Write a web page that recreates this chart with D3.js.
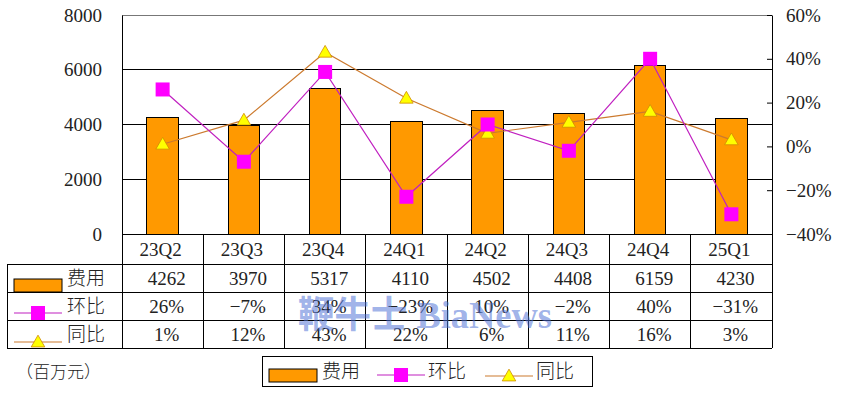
<!DOCTYPE html>
<html>
<head>
<meta charset="utf-8">
<script src="https://cdn.jsdelivr.net/npm/d3@7"></script>
<style>
  body { margin: 0; background: #fff; }
  svg { display: block; }
  text { font-family: 'Liberation Serif', 'Noto Sans CJK SC', serif; fill: #222; }
</style>
</head>
<body>
<svg id="chart" width="852" height="398"></svg>
<script>
const quarters = ['23Q2', '23Q3', '23Q4', '24Q1', '24Q2', '24Q3', '24Q4', '25Q1']
const expense = [4262, 3970, 5317, 4110, 4502, 4408, 6159, 4230]
const qoq = [26, -7, 34, -23, 10, -2, 40, -31]
const yoy = [1, 12, 43, 22, 6, 11, 16, 3]
const leftTicks = [0, 2000, 4000, 6000, 8000]
const rightTicks = [-40, -20, 0, 20, 40, 60]

const plot = { left: 122, right: 772, top: 15, bottom: 234 }
const rowH = [234, 264, 292, 320, 348]
const tableLeft = 7

const ORANGE = '#FF9900'
const MAGENTA = '#FF00FF'
const QOQ_LINE = '#C020C0'
const YOY_LINE = '#CC7A2E'
const YELLOW = '#FFFF00'

const pct = d => (d < 0 ? '\u2212' : '') + Math.abs(d) + '%'

const svg = d3.select('#chart')

const x = d3.scaleBand().domain(quarters).range([plot.left, plot.right]).padding(0)
const y = d3.scaleLinear().domain([0, 8000]).range([plot.bottom, plot.top])
const y2 = d3.scaleLinear().domain([-40, 60]).range([plot.bottom, plot.top])
const barW = x.bandwidth() * 0.39
const cx = q => x(q) + x.bandwidth() / 2

// grid lines
svg.append('g')
  .selectAll('line')
  .data(leftTicks)
  .join('line')
  .attr('x1', plot.left).attr('x2', plot.right)
  .attr('y1', d => y(d)).attr('y2', d => y(d))
  .attr('stroke', d => d === 8000 ? '#777' : '#000')
  .attr('stroke-width', 1)
  .attr('shape-rendering', 'crispEdges')

// bars
svg.append('g')
  .selectAll('rect')
  .data(expense)
  .join('rect')
  .attr('x', (d, i) => cx(quarters[i]) - barW / 2)
  .attr('y', d => y(d))
  .attr('width', barW)
  .attr('height', d => y(0) - y(d))
  .attr('fill', ORANGE)
  .attr('stroke', '#000')
  .attr('stroke-width', 1)
  .attr('shape-rendering', 'crispEdges')

// axes
const gl = svg.append('g')
  .attr('transform', `translate(${plot.left},0)`)
  .call(d3.axisLeft(y).tickValues(leftTicks).tickSize(0).tickPadding(20).tickFormat(d3.format('d')))
  .attr('font-family', null).attr('font-size', null)
gl.select('.domain').attr('stroke', '#000')
gl.selectAll('text').style('font-size', '19px')

const gr = svg.append('g')
  .attr('transform', `translate(${plot.right},0)`)
  .call(d3.axisRight(y2).tickValues(rightTicks).tickSizeInner(-5).tickSizeOuter(0).tickPadding(14).tickFormat(pct))
  .attr('font-family', null).attr('font-size', null)
gr.select('.domain').attr('stroke', '#000')
gr.selectAll('line').attr('stroke', '#000')
gr.selectAll('text').style('font-size', '19px')

// lines
const lineQ = d3.line().x((d, i) => cx(quarters[i])).y(d => y2(d))
svg.append('path').datum(yoy).attr('d', lineQ)
  .attr('fill', 'none').attr('stroke', YOY_LINE).attr('stroke-width', 1.2)
svg.append('path').datum(qoq).attr('d', lineQ)
  .attr('fill', 'none').attr('stroke', QOQ_LINE).attr('stroke-width', 1.2)

const tri = d3.symbol().type(d3.symbolTriangle).size(80)
svg.append('g')
  .selectAll('path')
  .data(yoy)
  .join('path')
  .attr('d', tri)
  .attr('transform', (d, i) => `translate(${cx(quarters[i])},${y2(d) + 1})`)
  .attr('fill', YELLOW)
  .attr('stroke', '#D08A00')
  .attr('stroke-width', 0.8)

svg.append('g')
  .selectAll('rect')
  .data(qoq)
  .join('rect')
  .attr('x', (d, i) => cx(quarters[i]) - 7)
  .attr('y', d => y2(d) - 7)
  .attr('width', 14).attr('height', 14)
  .attr('fill', MAGENTA)

// data table
const table = svg.append('g')
const tl = (x1, y1, x2, y2_) => table.append('line')
  .attr('x1', x1).attr('y1', y1).attr('x2', x2).attr('y2', y2_)
  .attr('stroke', '#000').attr('stroke-width', 1).attr('shape-rendering', 'crispEdges')

rowH.slice(1).forEach(r => tl(tableLeft, r, plot.right, r))
tl(tableLeft, rowH[1], tableLeft, rowH[4])
quarters.forEach(q => tl(x(q), rowH[0], x(q), rowH[4]))
tl(plot.right, rowH[0], plot.right, rowH[4])

const midRow = i => (rowH[i] + rowH[i + 1]) / 2

table.append('g')
  .selectAll('text')
  .data(quarters)
  .join('text')
  .attr('x', q => cx(q) - 2)
  .attr('y', midRow(0))
  .attr('dy', '0.35em')
  .attr('text-anchor', 'middle')
  .style('font-size', '19px')
  .text(q => q)

const rows = [expense.map(String), qoq.map(pct), yoy.map(pct)]
rows.forEach((vals, r) => {
  table.append('g')
    .selectAll('text')
    .data(vals)
    .join('text')
    .attr('x', (d, i) => cx(quarters[i]) + 4)
    .attr('y', midRow(r + 1))
    .attr('dy', '0.35em')
    .attr('text-anchor', 'middle')
    .style('font-size', '19px')
    .text(d => d)
})

// table row keys
const keyNames = ['费用', '环比', '同比']
function drawKey(g, kind, x0, yBottom) {
  if (kind === 0) {
    g.append('rect').attr('x', x0).attr('y', yBottom - 13).attr('width', 48).attr('height', 13)
      .attr('fill', ORANGE).attr('stroke', '#000').attr('stroke-width', 1)
  } else if (kind === 1) {
    g.append('line').attr('x1', x0).attr('x2', x0 + 48).attr('y1', yBottom - 7).attr('y2', yBottom - 7)
      .attr('stroke', QOQ_LINE).attr('stroke-width', 1.2)
    g.append('rect').attr('x', x0 + 17).attr('y', yBottom - 14).attr('width', 14).attr('height', 14)
      .attr('fill', MAGENTA)
  } else {
    g.append('line').attr('x1', x0).attr('x2', x0 + 48).attr('y1', yBottom - 6).attr('y2', yBottom - 6)
      .attr('stroke', YOY_LINE).attr('stroke-width', 1.2)
    g.append('path').attr('d', tri).attr('transform', `translate(${x0 + 24},${yBottom - 5})`)
      .attr('fill', YELLOW).attr('stroke', '#D08A00').attr('stroke-width', 0.8)
  }
}
keyNames.forEach((name, i) => {
  drawKey(table, i, 14, rowH[i + 2])
  table.append('text')
    .attr('x', 67).attr('y', midRow(i + 1)).attr('dy', '0.35em')
    .style('font-size', '19px')
    .style('font-family', "'Noto Sans CJK SC', sans-serif")
    .style('font-weight', 300)
    .text(name)
})

// unit
svg.append('text')
  .attr('x', 16).attr('y', 372).attr('dy', '0.35em')
  .style('font-size', '17px')
  .style('font-family', "'Noto Sans CJK SC', sans-serif")
  .style('font-weight', 300)
  .text('（百万元）')

// legend
const lg = svg.append('g')
lg.append('rect').attr('x', 262).attr('y', 356).attr('width', 330).attr('height', 30)
  .attr('fill', '#fff').attr('stroke', '#000').attr('stroke-width', 1).attr('shape-rendering', 'crispEdges')
const legendX = [[269, 322], [377, 428], [485, 536]]
keyNames.forEach((name, i) => {
  drawKey(lg, i, legendX[i][0], 382)
  lg.append('text')
    .attr('x', legendX[i][1]).attr('y', 371).attr('dy', '0.35em')
    .style('font-size', '19px')
    .style('font-family', "'Noto Sans CJK SC', sans-serif")
    .style('font-weight', 300)
    .text(name)
})

// watermark (CSS fill would override the attribute, so set it as style)
svg.append('text')
  .attr('x', 298).attr('y', 328)
  .style('font-size', '37px')
  .style('font-weight', 'bold')
  .style('font-family', "'Liberation Serif', 'Noto Sans CJK SC', serif")
  .style('fill', 'rgba(80, 115, 215, 0.55)')
  .attr('textLength', 254)
  .attr('lengthAdjust', 'spacingAndGlyphs')
  .text('鞭牛士 BiaNews')
</script>
</body>
</html>
